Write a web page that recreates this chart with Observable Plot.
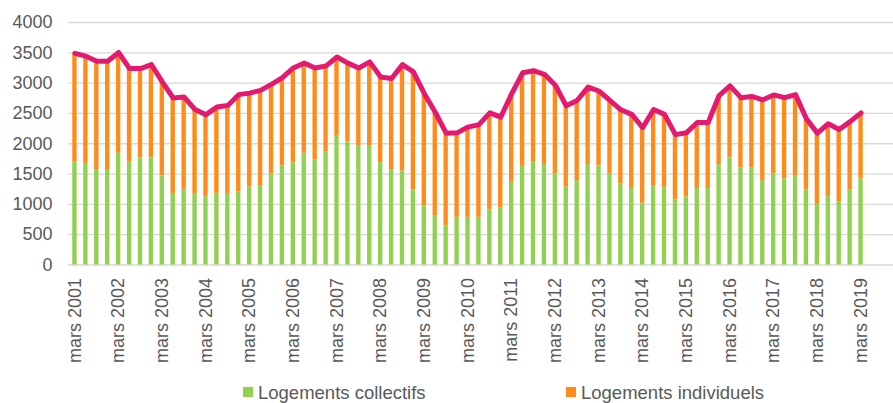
<!DOCTYPE html>
<html>
<head>
<meta charset="utf-8">
<script src="https://cdn.jsdelivr.net/npm/d3@7"></script>
<script src="https://cdn.jsdelivr.net/npm/@observablehq/plot@0.6"></script>
<style>
  body { margin: 0; background: #fff; font-family: "Liberation Sans", Arial, sans-serif; }
  #wrap { position: relative; width: 893px; height: 403px; overflow: hidden; }
  .legend { position: absolute; top: 383px; font-size: 18.5px; line-height: 19px; color: #595959; white-space: nowrap; }
  .sw { position: absolute; width: 10px; height: 10px; top: 4px; }
</style>
</head>
<body>
<div id="wrap">
  <div id="chart"></div>
  <div class="legend" style="left:243px"><span class="sw" style="background:#92d050;left:0"></span><span style="margin-left:15px">Logements collectifs</span></div>
  <div class="legend" style="left:566px"><span class="sw" style="background:#ff8c1a;left:0"></span><span style="margin-left:15px">Logements individuels</span></div>
</div>
<script>
const years = d3.range(2001, 2020);
const months = ["mars", "juin", "sept.", "déc."];
const quarters = years.flatMap(y => months.map(m => `${m} ${y}`)).slice(0, 73);
const tickLabels = years.map(y => `mars ${y}`);

const collectifs = [1705,1660,1575,1575,1845,1705,1765,1765,1470,1180,1250,1180,1125,1180,1180,1210,
  1285,1310,1500,1635,1685,1845,1735,1870,2135,2030,1970,1970,1685,1575,1550,1235,970,805,645,
  785,785,785,910,945,1375,1640,1705,1655,1500,1285,1390,1655,1635,1500,1340,1260,1020,1310,
  1285,1075,1125,1260,1260,1655,1765,1605,1605,1390,1500,1420,1475,1235,1000,1125,1045,1235,1420];
const individuels = [1785,1785,1785,1785,1660,1535,1475,1540,1550,1575,1520,1385,1355,1425,1450,1600,
  1550,1570,1480,1455,1565,1485,1515,1415,1295,1300,1280,1380,1415,1500,1755,1950,1855,1715,1530,
  1395,1490,1530,1600,1495,1450,1530,1500,1490,1465,1340,1325,1280,1235,1215,1220,1225,1245,1255,
  1200,1075,1055,1090,1090,1140,1190,1155,1175,1335,1305,1340,1335,1175,1175,1205,1190,1130,1090];

const series = ["Logements collectifs", "Logements individuels"];
const colors = ["#92d050", "#ff8c1a"];

const long = [];
quarters.forEach((q, i) => {
  long.push({quarter: q, type: series[0], value: collectifs[i]});
  long.push({quarter: q, type: series[1], value: individuels[i]});
});
const totals = quarters.map((q, i) => ({quarter: q, total: collectifs[i] + individuels[i]}));

const chart = Plot.plot({
  width: 893,
  height: 380,
  marginLeft: 68,
  marginRight: 0,
  marginTop: 22,
  marginBottom: 115.5,
  style: {fontFamily: "'Liberation Sans', Arial, sans-serif", fontSize: "18px", color: "#595959", background: "#fff"},
  x: {type: "band", domain: quarters, range: [69, 866], paddingInner: 0.6, paddingOuter: 0.3, label: null},
  y: {domain: [0, 4000], label: null},
  color: {domain: series, range: colors},
  marks: [
    Plot.gridY({ticks: d3.range(0, 4001, 500), stroke: "#d9d9d9", strokeOpacity: 1, strokeWidth: 1.3}),
    Plot.axisY({ticks: d3.range(0, 4001, 500), tickFormat: d => String(d), tickSize: 0, tickPadding: 16, fill: "#595959", fontSize: 18, label: null}),
    Plot.axisX({ticks: tickLabels, tickSize: 0, tickPadding: 13, tickRotate: -90, fill: "#595959", fontSize: 18, label: null}),
    Plot.barY(long, {x: "quarter", y: "value", fill: "type", order: series}),
    Plot.lineY(totals, {x: "quarter", y: "total", stroke: "#e31a6f", strokeWidth: 5, strokeLinejoin: "round", strokeLinecap: "round"})
  ]
});
document.getElementById("chart").appendChild(chart);
</script>
</body>
</html>
